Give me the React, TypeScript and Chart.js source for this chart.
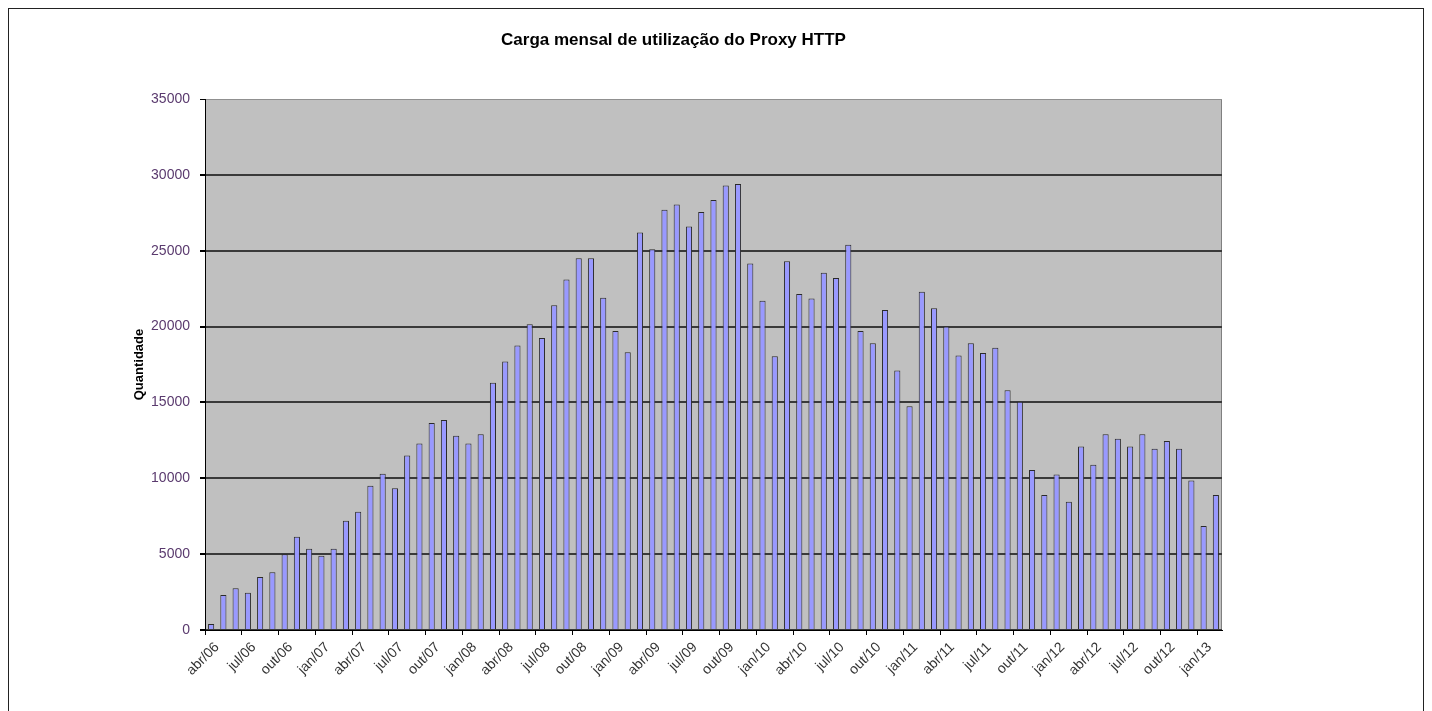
import React, { useEffect, useRef } from "react";
import { Chart, registerables } from "chart.js";

Chart.register(...registerables);

const monthNames = ["jan", "fev", "mar", "abr", "mai", "jun", "jul", "ago", "set", "out", "nov", "dez"];
const startYear = 2006;
const startMonth = 3; // abr
const values = [
  400, 2300, 2750, 2450, 3500, 3800, 5000, 6150, 5350, 4900, 5350, 7200,
  7800, 9500, 10300, 9350, 11500, 12300, 13650, 13850, 12800, 12300, 12900, 16300,
  17700, 18750, 20150, 19250, 21400, 23100, 24500, 24500, 21900, 19700, 18300, 26200,
  25100, 27700, 28050, 26600, 27550, 28350, 29300, 29400, 24150, 21700, 18050, 24300,
  22150, 21850, 23550, 23200, 25400, 19700, 18900, 21100, 17100, 14750, 22300, 21200,
  20000, 18100, 18900, 18250, 18600, 15800, 15050, 10550, 8900, 10250, 8450, 12100,
  10900, 12900, 12600, 12100, 12900, 11950, 12450, 11950, 9850, 6850, 8900,
];
const categories = values.map((_, i) => {
  const m = startMonth + i;
  const y = startYear + Math.floor(m / 12);
  return monthNames[m % 12] + "/" + String(y % 100).padStart(2, "0");
});
const yTicks = [0, 5000, 10000, 15000, 20000, 25000, 30000, 35000];
const chartTitle = "Carga mensal de utilização do Proxy HTTP";
const yTitle = "Quantidade";

const FONT = "'Liberation Sans', Arial, sans-serif";

const plotBg = {
  id: "plotBg",
  beforeDraw(chart: any) {
    const { ctx, chartArea } = chart;
    ctx.save();
    ctx.fillStyle = "#C0C0C0";
    ctx.fillRect(chartArea.left, chartArea.top, chartArea.right - chartArea.left, chartArea.bottom - chartArea.top);
    ctx.strokeStyle = "#808080";
    ctx.lineWidth = 1;
    ctx.strokeRect(chartArea.left + 0.5, chartArea.top + 0.5, chartArea.right - chartArea.left - 1, chartArea.bottom - chartArea.top);
    ctx.restore();
  },
};

export default function App() {
  const ref = useRef<HTMLCanvasElement>(null);
  useEffect(() => {
    if (!ref.current) return;
    const chart = new Chart(ref.current, {
      type: "bar",
      data: {
        labels: categories,
        datasets: [
          {
            data: values,
            backgroundColor: "#9999FF",
            borderColor: "#2a2a2a",
            borderWidth: 1,
            barPercentage: 0.5,
            categoryPercentage: 1,
          },
        ],
      },
      options: {
        responsive: false,
        animation: false,
        devicePixelRatio: 1,
        layout: { padding: { left: 116, right: 105, top: 10, bottom: 10 } },
        plugins: {
          legend: { display: false },
          tooltip: { enabled: false },
          title: {
            display: true,
            text: chartTitle,
            color: "#000",
            font: { family: FONT, size: 17, weight: "bold", lineHeight: 20 / 17 },
            padding: { top: 11, bottom: 49 },
          },
        },
        scales: {
          x: {
            offset: true,
            afterFit(scale: any) {
              scale.height = 70;
            },
            border: { color: "#000", width: 1 },
            grid: {
              offset: true,
              drawOnChartArea: false,
              drawTicks: true,
              tickLength: 5,
              color: (ctx: any) => (ctx.index % 3 === 0 && ctx.index < values.length ? "#000" : "rgba(0,0,0,0)"),
            },
            ticks: {
              autoSkip: false,
              maxRotation: 45,
              minRotation: 45,
              padding: 4,
              labelOffset: 6,
              color: "#333",
              font: { family: FONT, size: 14 },
              callback: (_v: any, i: number) => (i % 3 === 0 ? categories[i] : ""),
            },
          },
          y: {
            min: 0,
            max: 35000,
            afterFit(scale: any) {
              scale.width = 80;
            },
            afterBuildTicks(scale: any) {
              scale.ticks = yTicks.map((v) => ({ value: v }));
            },
            border: { color: "#000", width: 1 },
            grid: {
              color: (ctx: any) => (ctx.tick && ctx.tick.value === 35000 ? "#909090" : "#3a3a3a"),
              tickColor: "#000",
              tickLength: 5,
              lineWidth: (ctx: any) => (ctx.tick && ctx.tick.value === 35000 ? 1 : 2),
            },
            ticks: {
              padding: 10,
              color: "#5a3a6e",
              font: { family: FONT, size: 14 },
              callback: (v: any) => String(v),
            },
            title: {
              display: true,
              text: yTitle,
              color: "#000",
              font: { family: FONT, size: 13, weight: "bold", lineHeight: 1.2 },
              padding: { top: 7, bottom: 4 },
            },
          },
        },
      },
      plugins: [plotBg],
    });
    return () => chart.destroy();
  }, []);
  return (
    <div
      style={{
        position: "fixed",
        left: 8,
        top: 8,
        width: 1414,
        height: 720,
        borderTop: "1px solid #222",
        borderLeft: "1px solid #222",
        borderRight: "1px solid #222",
        background: "#fff",
        overflow: "hidden",
      }}
    >
      <canvas ref={ref} width={1318} height={701} style={{ display: "block", width: 1318, height: 701 }} />
    </div>
  );
}
